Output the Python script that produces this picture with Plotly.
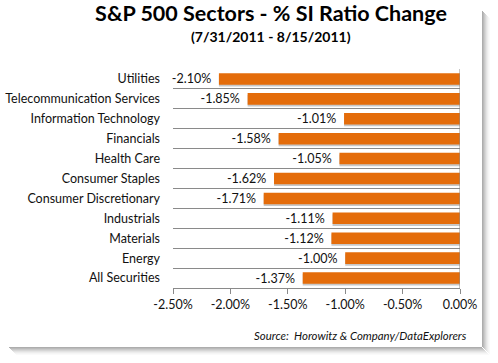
import plotly.graph_objects as go

categories = ["Utilities", "Telecommunication Services", "Information Technology",
              "Financials", "Health Care", "Consumer Staples", "Consumer Discretionary",
              "Industrials", "Materials", "Energy", "All Securities"]
values = [-2.10, -1.85, -1.01, -1.58, -1.05, -1.62, -1.71, -1.11, -1.12, -1.00, -1.37]
x_ticks = [-2.5, -2.0, -1.5, -1.0, -0.5, 0.0]
x_tick_labels = ["-2.50%", "-2.00%", "-1.50%", "-1.00%", "-0.50%", "0.00%"]

title_text = "S&P 500 Sectors - % SI Ratio Change"
subtitle_text = "(7/31/2011 - 8/15/2011)"
source_text = "Source:  Horowitz & Company/DataExplorers"

W, H = 498, 363
# plot area in window pixels
L, R, T, B = 173, 460, 69, 288
FONT = "Lato, Calibri, Carlito, sans-serif"
ORANGE = "#E46C0A"
GRID = "#8A8A8A"
TXT = "#111111"


def px(x):
    return (x - L) / (R - L)


def py(y):
    return (B - y) / (B - T)


labels = [f"{v:.2f}%\u00a0\u2009" for v in values]
BW = 0.58

fig = go.Figure()
# soft shadow under the bars
fig.add_trace(go.Bar(
    x=values, y=categories, orientation="h",
    width=BW, offset=-BW / 2 + 0.09,
    marker=dict(color="rgba(0,0,0,0.22)", line=dict(width=0)),
    hoverinfo="skip",
))
fig.add_trace(go.Bar(
    x=values, y=categories, orientation="h",
    width=BW, offset=-BW / 2,
    marker=dict(color=ORANGE, line=dict(width=0)),
    text=labels, texttemplate="%{text}", textposition="outside",
    constraintext="none",
    textfont=dict(family=FONT, size=12.5, color=TXT),
    cliponaxis=False, hoverinfo="skip",
))

shapes = []
# vertical axis line at 0
shapes.append(dict(type="line", xref="x", yref="paper", x0=0, x1=0, y0=0, y1=1,
                   line=dict(color=GRID, width=1)))
# frame drop shadow (right and bottom)
shadow_levels = [(0, "rgba(0,0,0,0.32)"), (1, "rgba(0,0,0,0.27)"), (2, "rgba(0,0,0,0.21)"),
                 (3, "rgba(0,0,0,0.16)"), (4, "rgba(0,0,0,0.11)"), (5, "rgba(0,0,0,0.07)"),
                 (6, "rgba(0,0,0,0.04)"), (7, "rgba(0,0,0,0.02)")]
for d, c in shadow_levels:
    shapes.append(dict(type="rect", xref="paper", yref="paper", layer="below",
                       x0=px(482 + d), x1=px(483 + d), y0=py(11 + d), y1=py(347 + d),
                       fillcolor=c, line=dict(width=0)))
    shapes.append(dict(type="rect", xref="paper", yref="paper", layer="below",
                       x0=px(9 + d), x1=px(482 + d), y0=py(347 + d), y1=py(348 + d),
                       fillcolor=c, line=dict(width=0)))

fig.update_layout(
    width=W, height=H,
    margin=dict(l=L, r=W - R, t=T, b=H - B, pad=0, autoexpand=False),
    paper_bgcolor="white", plot_bgcolor="white",
    showlegend=False,
    barmode="overlay",
    font=dict(family=FONT, size=12.5, color=TXT),
    title=dict(text="<b>" + title_text + "</b>", x=271 / W, xanchor="center",
               y=1 - 13 / H, yanchor="middle", yref="container",
               font=dict(family=FONT, size=21.5, color="black")),
    xaxis=dict(range=[-2.5, 0], tickvals=x_ticks, ticktext=x_tick_labels,
               showgrid=False, zeroline=False, showline=True, linecolor=GRID, linewidth=1,
               ticks="outside", ticklen=5, tickcolor=GRID,
               tickfont=dict(family=FONT, size=12.5, color=TXT), fixedrange=True),
    yaxis=dict(autorange="reversed", type="category", tickson="boundaries",
               showgrid=True, gridcolor=GRID, gridwidth=1, zeroline=False,
               showline=False, ticks="", ticklabelstandoff=12,
               tickfont=dict(family=FONT, size=12.5, color=TXT), fixedrange=True),
    shapes=shapes,
    annotations=[
        dict(text="<b>" + subtitle_text + "</b>", xref="paper", yref="paper",
             x=px(271), y=py(36), xanchor="center", yanchor="middle", showarrow=False,
             font=dict(family=FONT, size=14, color="black")),
        dict(text="<i>" + source_text + "</i>", xref="paper", yref="paper",
             x=px(469), y=py(335), xanchor="right", yanchor="middle", showarrow=False,
             font=dict(family=FONT, size=11.4, color=TXT)),
    ],
)

fig.write_html("out.html", config={"displayModeBar": False, "staticPlot": True},
               post_script="document.body.style.margin='0';document.body.style.overflow='hidden';")
